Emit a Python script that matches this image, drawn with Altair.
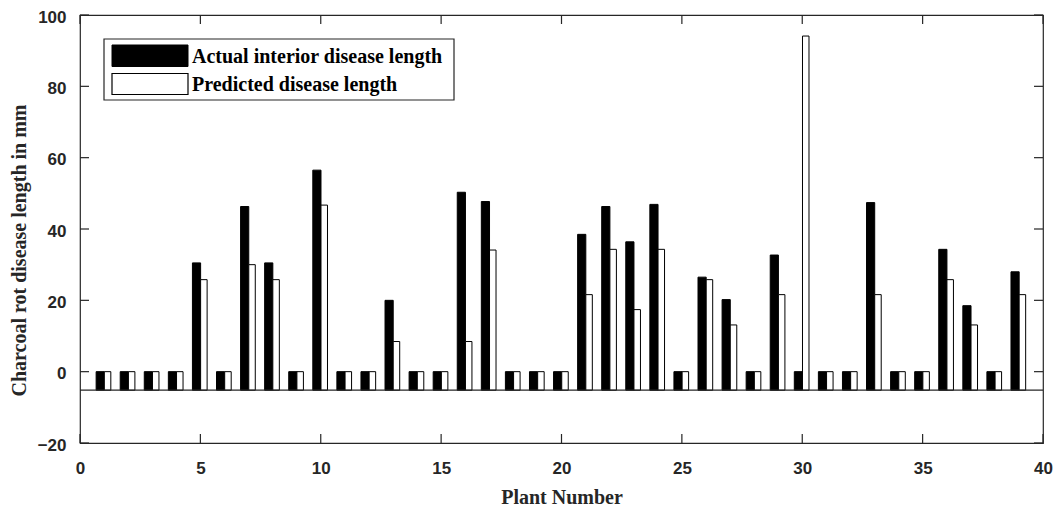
import altair as alt
import pandas as pd

# ---------------- data ----------------
plants = list(range(1, 40))
actual = [0, 0, 0, 0, 30.5, 0, 46.3, 30.5, 0, 56.5,
          0, 0, 20.0, 0, 0, 50.3, 47.7, 0, 0, 0,
          38.5, 46.3, 36.4, 46.9, 0, 26.5, 20.2, 0, 32.7, 0,
          0, 0, 47.4, 0, 0, 34.3, 18.5, 0, 28.0]
predicted = [0, 0, 0, 0, 25.8, 0, 30.0, 25.8, 0, 46.7,
             0, 0, 8.45, 0, 0, 8.45, 34.1, 0, 0, 0,
             21.6, 34.3, 17.4, 34.3, 0, 25.8, 13.1, 0, 21.6, 94.1,
             0, 0, 21.6, 0, 0, 25.8, 13.1, 0, 21.6]
legend_labels = ["Actual interior disease length", "Predicted disease length"]
x_ticks = [0, 5, 10, 15, 20, 25, 30, 35, 40]
y_ticks = [-20, 0, 20, 40, 60, 80, 100]
BASE = -5.2  # bar base value

# ---------------- style ----------------
W, H = 963, 428
AX = "#262626"
SANS = "Liberation Sans"
SERIF = "Liberation Serif"
TICK = 9

df = pd.DataFrame({"plant": plants, "actual": actual, "predicted": predicted})
df["base"] = BASE

xscale = alt.Scale(domain=[0, 40], nice=False, zero=False)
yscale = alt.Scale(domain=[-20, 100], nice=False, zero=False)

xaxis = alt.Axis(values=x_ticks, format="d", ticks=False, domain=False, grid=False,
                 labelFont=SANS, labelFontSize=17, labelFontWeight="bold", labelColor=AX,
                 labelPadding=17, labelFlush=False,
                 title="Plant Number", titleFont=SERIF, titleFontSize=20,
                 titleFontWeight="bold", titleColor=AX, titleBaseline="alphabetic",
                 titleY=60)
yaxis = alt.Axis(values=y_ticks, format="d", ticks=False, domain=False, grid=False,
                 labelFont=SANS, labelFontSize=17, labelFontWeight="bold", labelColor=AX,
                 labelPadding=14, labelFlush=False, labelOffset=2,
                 title="Charcoal rot disease length in mm", titleFont=SERIF,
                 titleFontSize=20, titleFontWeight="bold", titleColor=AX,
                 titleAngle=270, titleBaseline="middle", titleAlign="center",
                 titleX=-61, titleY=235)

base = alt.Chart(df)

black = base.transform_calculate(
    x0="datum.plant - 0.33", x1="datum.plant + 0.01"
).mark_rect(fill="black", stroke="black", strokeWidth=1).encode(
    x=alt.X("x0:Q", scale=xscale, axis=xaxis),
    x2="x1:Q",
    y=alt.Y("base:Q", scale=yscale, axis=yaxis),
    y2="actual:Q",
)

white = base.transform_calculate(
    x0="datum.plant + 0.01", x1="datum.plant + 0.28"
).mark_rect(fill="white", stroke="black", strokeWidth=1).encode(
    x=alt.X("x0:Q", scale=xscale, axis=xaxis),
    x2="x1:Q",
    y=alt.Y("base:Q", scale=yscale, axis=yaxis),
    y2="predicted:Q",
)

baseline = alt.Chart(pd.DataFrame({"base": [BASE]})).mark_rule(color=AX, strokeWidth=1.2).encode(
    y=alt.Y("base:Q", scale=yscale, axis=yaxis), x=alt.value(0), x2=alt.value(W)
)

xt = pd.DataFrame({"x0": x_ticks})
yt = pd.DataFrame({"base": y_ticks})
xt_bot = alt.Chart(xt).mark_rule(color=AX, strokeWidth=1.2).encode(
    x=alt.X("x0:Q", scale=xscale, axis=xaxis), y=alt.value(H), y2=alt.value(H - TICK))
xt_top = alt.Chart(xt).mark_rule(color=AX, strokeWidth=1.2).encode(
    x=alt.X("x0:Q", scale=xscale, axis=xaxis), y=alt.value(0), y2=alt.value(TICK))
yt_left = alt.Chart(yt).mark_rule(color=AX, strokeWidth=1.2).encode(
    y=alt.Y("base:Q", scale=yscale, axis=yaxis), x=alt.value(0), x2=alt.value(TICK))
yt_right = alt.Chart(yt).mark_rule(color=AX, strokeWidth=1.2).encode(
    y=alt.Y("base:Q", scale=yscale, axis=yaxis), x=alt.value(W), x2=alt.value(W - TICK))

one = alt.Data(values=[{"k": 1}])
leg_box = alt.Chart(one).mark_rect(fill="white", stroke=AX, strokeWidth=1.2).encode(
    x=alt.value(24), x2=alt.value(374), y=alt.value(24), y2=alt.value(85))
leg_sw1 = alt.Chart(one).mark_rect(fill="black", stroke="black", strokeWidth=1).encode(
    x=alt.value(32), x2=alt.value(108), y=alt.value(30), y2=alt.value(51.5))
leg_sw2 = alt.Chart(one).mark_rect(fill="white", stroke="black", strokeWidth=1.2).encode(
    x=alt.value(32), x2=alt.value(108), y=alt.value(58.5), y2=alt.value(79.5))
leg_t1 = alt.Chart(one).mark_text(
    align="left", baseline="middle", font=SERIF, fontSize=20, fontWeight="bold", color="black"
).encode(x=alt.value(112), y=alt.value(41.5), text=alt.value(legend_labels[0]))
leg_t2 = alt.Chart(one).mark_text(
    align="left", baseline="middle", font=SERIF, fontSize=20, fontWeight="bold", color="black"
).encode(x=alt.value(112), y=alt.value(70), text=alt.value(legend_labels[1]))

chart = alt.layer(
    black, white, baseline, xt_bot, xt_top, yt_left, yt_right,
    leg_box, leg_sw1, leg_sw2, leg_t1, leg_t2
).properties(
    width=W, height=H,
    autosize=alt.AutoSizeParams(type="none"),
    padding={"left": 72, "top": 7, "right": 11, "bottom": 75},
    background="white",
).configure_view(stroke=AX, strokeWidth=1.2)

chart.save("out.html", embed_options={"renderer": "svg", "actions": False})
